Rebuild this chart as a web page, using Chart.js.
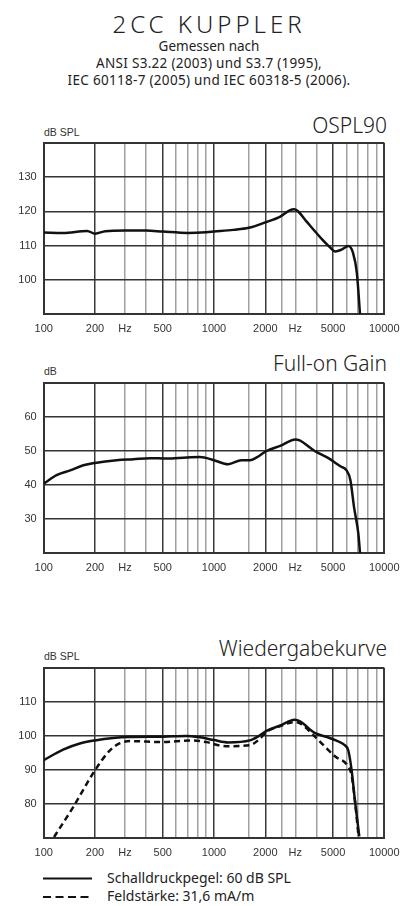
<!DOCTYPE html>
<html>
<head>
<meta charset="utf-8">
<script src="https://cdn.jsdelivr.net/npm/chart.js@4.4.0/dist/chart.umd.min.js"></script>
<style>
  html, body { margin:0; padding:0; background:#fff; }
  #wrap { position:relative; width:400px; height:906px; overflow:hidden; background:#fff; }
  canvas { position:absolute; left:0; }
  .t { position:absolute; white-space:nowrap; color:#222; line-height:1; }
  .hdr { left:209px; transform:translateX(-50%); font-family:"Noto Sans", sans-serif; }
  .title { right:13px; font-family:"Noto Sans", sans-serif; font-size:21px; font-weight:300; }
  .unit { left:44px; font-family:"Liberation Sans", Arial, sans-serif; font-size:10.5px; color:#333; }
  .leg { left:107px; font-family:"Noto Sans", sans-serif; font-size:14px; color:#222; }
</style>
</head>
<body>
<div id="wrap">
  <div class="t hdr" style="top:12px;font-size:24px;letter-spacing:4px;font-weight:300;">2CC KUPPLER</div>
  <div class="t hdr" style="top:40px;font-size:13.5px;">Gemessen nach</div>
  <div class="t hdr" style="top:57px;font-size:13.5px;letter-spacing:0.3px;">ANSI S3.22 (2003) und S3.7 (1995),</div>
  <div class="t hdr" style="top:74px;font-size:13.5px;letter-spacing:0.3px;">IEC 60118-7 (2005) und IEC 60318-5 (2006).</div>

  <div class="t title" style="top:115px;">OSPL90</div>
  <div class="t unit" style="top:127px;">dB SPL</div>
  <div class="t title" style="top:353px;">Full-on Gain</div>
  <div class="t unit" style="top:366px;">dB</div>
  <div class="t title" style="top:638px;">Wiedergabekurve</div>
  <div class="t unit" style="top:651px;">dB SPL</div>

  <canvas id="c1" width="400" height="205"></canvas>
  <canvas id="c2" width="400" height="205"></canvas>
  <canvas id="c3" width="400" height="205"></canvas>

  <svg style="position:absolute;left:0;top:870px" width="100" height="36">
    <line x1="43" y1="8.5" x2="92" y2="8.5" stroke="#111" stroke-width="2.2"/>
    <line x1="43" y1="27" x2="92" y2="27" stroke="#111" stroke-width="2.2" stroke-dasharray="8,4.5"/>
  </svg>
  <div class="t leg" style="top:871px;">Schalldruckpegel: 60 dB SPL</div>
  <div class="t leg" style="top:889px;">Feldstärke: 31,6 mA/m</div>
</div>
<script>
// ---- data ----
const xGridValues = [100,200,300,400,500,600,700,800,900,1000,1600,2000,2500,3000,4000,5000,6000,7000,8000,9000,10000];
const xMajorValues = [100,200,500,1000,2000,5000,10000];
const xTickLabels = {100:'100',200:'200',300:'Hz',500:'500',1000:'1000',2000:'2000',3000:'Hz',5000:'5000',10000:'10000'};

const osplFreq = [100,130,180,200,230,300,400,500,700,900,1000,1300,1600,2000,2450,2800,2950,3100,3500,4300,4800,5150,5600,6150,6550,6900,7200];
const osplDb   = [113.8,113.7,114.3,113.5,114.2,114.4,114.4,114.1,113.7,113.9,114.1,114.6,115.2,116.8,118.5,120.4,120.6,120.1,117.0,111.9,109.5,108.3,108.8,109.9,107.9,102,90];
const osplTicks = [90,100,110,120,130,140];

const gainFreq = [100,119,143,171,200,268,336,421,527,692,826,1000,1211,1450,1624,1781,2033,2450,3000,3183,3900,4700,5520,6000,6325,6640,7040,7200];
const gainDb   = [40.4,42.9,44.3,45.8,46.5,47.3,47.6,47.9,47.8,48.1,48.2,47.3,46.1,47.3,47.3,48.1,50.0,51.5,53.4,53.1,50.0,47.9,45.5,44.3,41.4,33.5,25.7,20];
const gainTicks = [20,30,40,50,60,70];

const splFreq = [100,130,163,200,256,321,500,692,826,1000,1211,1624,1820,2033,2450,2970,3183,3900,4600,5200,5860,6140,6430,6720,7130];
const splDb   = [92.9,96.0,97.8,98.7,99.4,99.7,99.8,100.0,99.6,98.8,98.1,98.7,99.9,101.5,103.1,104.8,104.4,100.9,99.7,98.7,97.3,95.8,89.9,81.1,70.5];
const fieldFreq = [115,149,200,245,281,321,500,723,906,1060,1211,1624,1860,2033,2450,2970,3183,3900,4600,5200,6000,6430,6720,7060];
const fieldDb   = [70.3,79.1,89.9,95.8,97.9,98.5,98.2,98.7,98.2,97.3,97.0,97.3,99.2,101.2,102.9,104.1,103.8,99.9,96.3,93.8,91.7,88.4,81.1,70.5];
const respTicks = [70,80,90,100,110,120];

// ---- helpers ----
const PLOT_LEFT = 43.7, PLOT_RIGHT = 384.3, PAD_TOP = 10, XAXIS_H = 25;
function pts(f, d) { return f.map((v, i) => ({x: v, y: d[i]})); }

function makeChart(id, plotTop, plotBottom, yTicks, datasets) {
  const cv = document.getElementById(id);
  const h = Math.round(plotBottom - plotTop + PAD_TOP + XAXIS_H);
  cv.height = h;
  cv.style.top = (plotTop - PAD_TOP) + 'px';
  const yMin = yTicks[0], yMax = yTicks[yTicks.length - 1];
  return new Chart(cv, {
    type: 'line',
    data: { datasets: datasets },
    options: {
      responsive: false, animation: false, devicePixelRatio: 1,
      layout: { padding: { top: PAD_TOP, right: 400 - PLOT_RIGHT, left: 0, bottom: 0 } },
      plugins: { legend: { display: false }, tooltip: { enabled: false } },
      elements: { point: { radius: 0 } },
      scales: {
        x: {
          type: 'logarithmic', min: 100, max: 10000,
          afterBuildTicks: (s) => { s.ticks = xGridValues.map(v => ({ value: v })); },
          afterFit: (s) => { s.height = XAXIS_H; s.paddingLeft = 0; s.paddingRight = 0; },
          ticks: {
            autoSkip: false, maxRotation: 0, minRotation: 0, padding: 8,
            color: '#333', font: { family: 'Liberation Sans, Arial, sans-serif', size: 11 },
            callback: (v) => xTickLabels[v] || ''
          },
          grid: {
            drawTicks: false,
            color: (c) => xMajorValues.includes(c.tick && c.tick.value) ? '#3a3a3a' : '#a0a0a0',
            lineWidth: (c) => {
              const v = c.tick && c.tick.value;
              if (v === 100 || v === 10000) return 2;
              return 1.5;
            }
          },
          border: { display: true, color: '#333', width: 2 }
        },
        y: {
          min: yMin, max: yMax,
          afterBuildTicks: (s) => { s.ticks = yTicks.map(v => ({ value: v })); },
          afterFit: (s) => { s.width = PLOT_LEFT; s.paddingTop = 0; s.paddingBottom = 0; },
          ticks: {
            padding: 7, color: '#333', font: { family: 'Liberation Sans, Arial, sans-serif', size: 11 },
            callback: (v) => (v === yMin || v === yMax) ? '' : String(v)
          },
          grid: {
            drawTicks: false, color: '#333',
            lineWidth: (c) => (c.tick && (c.tick.value === yMax || c.tick.value === yMin)) ? 2 : 1.5
          },
          border: { display: true, color: '#333', width: 2 }
        }
      }
    }
  });
}

const lineStyle = { borderColor: '#111', borderWidth: 2.5, cubicInterpolationMode: 'monotone', fill: false, pointRadius: 0 };

makeChart('c1', 143.3, 314.3, osplTicks, [
  Object.assign({ label: 'OSPL90', data: pts(osplFreq, osplDb) }, lineStyle)
]);
makeChart('c2', 382.7, 552.7, gainTicks, [
  Object.assign({ label: 'Full-on Gain', data: pts(gainFreq, gainDb) }, lineStyle)
]);
makeChart('c3', 667.7, 837.7, respTicks, [
  Object.assign({ label: 'Schalldruckpegel: 60 dB SPL', data: pts(splFreq, splDb) }, lineStyle),
  Object.assign({ label: 'Feldstärke: 31,6 mA/m', data: pts(fieldFreq, fieldDb), borderDash: [6, 4] }, lineStyle)
]);
</script>
</body>
</html>
